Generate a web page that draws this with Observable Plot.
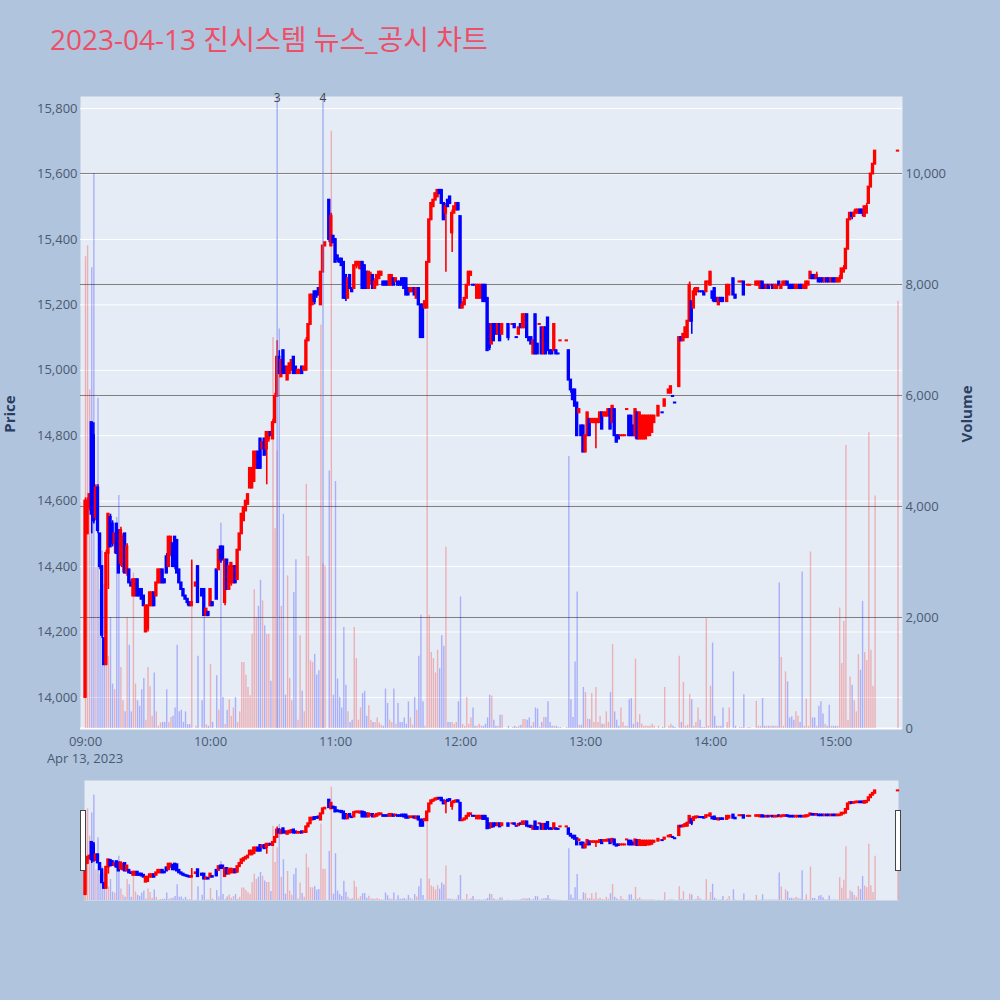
<!DOCTYPE html>
<html>
<head>
<meta charset="utf-8">
<script src="https://cdn.jsdelivr.net/npm/d3@7"></script>
<script src="https://cdn.jsdelivr.net/npm/@observablehq/plot@0.6"></script>
<style>
  body { margin: 0; background: #b0c4de; }
  #page { position: relative; width: 1000px; height: 1000px; overflow: hidden; background: #b0c4de;
          font-family: "Open Sans", "Noto Sans CJK KR", sans-serif; }
  .layer { position: absolute; left: 0; }
  #title { position: absolute; left: 50px; top: 25px; font-size: 28px; line-height: 28px; color: #ee4f66; white-space: nowrap; }
  .ylab { position: absolute; font-size: 15px; font-weight: bold; color: #2a3f5f; transform: translate(-50%, -50%) rotate(-90deg); white-space: nowrap; }
  #date { position: absolute; left: 85px; top: 752px; font-size: 13px; line-height: 13px; color: #4a5a70; transform: translateX(-50%); white-space: nowrap; }
  .handle { position: absolute; top: 810px; width: 4px; height: 59px; background: #fff; border: 1px solid #444; }
</style>
</head>
<body>
<div id="page">
  <div id="title">2023-04-13 진시스템 뉴스_공시 차트</div>
  <div class="ylab" style="left:9px;top:414px">Price</div>
  <div class="ylab" style="left:966px;top:414px">Volume</div>
  <div id="date">Apr 13, 2023</div>
</div>
<script>
// minutes after 09:00, one candle per traded minute
const minute = [
  0,1,2,3,4,5,6,7,8,9,
  10,11,12,13,14,15,16,17,18,19,
  20,21,22,23,24,25,26,27,28,29,
  30,31,32,33,34,35,36,37,38,39,
  40,41,42,43,44,45,46,47,48,49,
  50,51,53,54,56,57,58,59,60,61,
  63,64,65,66,67,68,69,70,71,72,
  73,74,75,76,77,78,79,80,81,82,
  83,84,85,86,87,88,89,90,91,92,
  93,
  94,95,96,97,98,99,100,101,102,103,
  104,105,106,107,108,109,110,111,112,113,
  114,115,117,118,119,120,121,122,123,124,
  125,126,127,128,129,130,131,132,133,134,
  135,136,137,138,139,140,141,142,143,144,
  145,146,147,148,149,150,151,152,153,154,
  155,156,157,158,159,160,161,162,163,164,
  165,166,167,168,169,170,171,172,173,174,
  175,176,177,178,179,180,181,182,183,184,
  185,186,187,
  188,189,190,191,192,193,194,195,196,197,
  198,199,200,203,205,206,207,208,209,210,
  211,212,213,214,215,216,217,218,219,220,
  221,222,223,224,225,226,227,228,231,232,
  233,234,235,236,237,238,239,240,241,242,
  243,244,245,246,247,248,249,250,251,252,
  253,254,255,256,257,258,259,260,261,262,
  263,264,265,266,267,268,269,270,271,272,
  273,275,277,278,280,281,282,283,
  285,286,287,288,289,290,291,292,293,294,
  295,296,297,298,299,300,301,302,303,304,
  305,306,308,309,311,312,314,315,316,318,
  319,322,323,324,325,326,327,328,329,330,
  331,332,333,334,335,336,337,338,339,340,
  341,342,343,344,345,346,347,348,349,350,
  351,352,353,354,355,356,357,358,359,360,
  361,362,363,364,365,366,367,368,369,370,
  371,372,373,374,375,376,377,378,379,390
];

const open = [
  14000,14500,14580,14840,14800,14550,14640,14500,14400,14180,
  14100,14440,14550,14530,14470,14530,14510,14410,14400,14500,
  14380,14390,14350,14310,14310,14360,14330,14330,14310,14200,
  14210,14280,14280,14320,14310,14350,14350,14390,14360,14430,
  14400,14440,14470,14490,14480,14390,14350,14330,14310,14300,
  14290,14280,14340,14400,14330,14330,14250,14260,14280,14290,
  14390,14390,14460,14460,14290,14420,14330,14350,14350,14400,
  14360,14450,14500,14540,14570,14590,14640,14640,14660,14700,
  14750,14790,14760,14790,14760,14790,14810,14790,14840,14920,
  15040,
  14980,15060,15010,14970,14990,15000,15040,15010,14990,14990,
  15010,15000,15000,15090,15140,15200,15240,15240,15250,15200,
  15300,15380,15520,15380,15410,15400,15350,15340,15340,15330,
  15290,15220,15290,15250,15250,15320,15320,15310,15330,15320,
  15300,15250,15270,15290,15250,15260,15280,15290,15270,15270,
  15270,15260,15260,15280,15270,15270,15270,15280,15280,15280,
  15250,15240,15240,15250,15220,15250,15200,15200,15190,15190,
  15330,15460,15500,15520,15530,15550,15550,15510,15480,15520,
  15530,15420,15480,15490,15510,15470,15190,15200,15220,15260,
  15290,15260,15260,
  15220,15220,15220,15260,15260,15220,15140,15080,15140,15140,
  15110,15140,15110,15140,15140,15140,15100,15110,15140,15130,
  15130,15170,15100,15100,15050,15170,15080,15140,15130,15050,
  15130,15160,15060,15060,15060,15060,15050,15090,15090,15060,
  14970,14940,14940,14900,14870,14830,14830,14750,14800,14850,
  14840,14840,14840,14840,14840,14870,14860,14860,14860,14880,
  14840,14880,14800,14800,14800,14800,14800,14880,14860,14860,
  14830,14800,14870,14790,14790,14790,14790,14800,14800,14810,
  14840,14860,14870,14890,14930,14930,14920,14900,
  14950,15100,15090,15100,15100,15150,15210,15190,15230,15240,
  15240,15240,15240,15240,15270,15260,15240,15250,15220,15200,
  15220,15220,15210,15230,15280,15230,15270,15270,15270,15260,
  15260,15260,15260,15250,15270,15260,15250,15260,15260,15260,
  15250,15250,15270,15250,15260,15260,15270,15260,15260,15260,
  15250,15250,15260,15260,15250,15250,15260,15280,15290,15290,
  15280,15280,15280,15280,15270,15280,15280,15270,15280,15280,
  15270,15270,15280,15300,15310,15370,15460,15480,15470,15480,
  15480,15490,15490,15470,15480,15510,15560,15600,15630,15670
];

const high = [
  14610,14610,14620,14840,14840,14650,14650,14500,14400,14180,
  14450,14560,14560,14540,14500,14530,14510,14520,14500,14500,
  14470,14390,14360,14360,14360,14360,14330,14330,14310,14280,
  14280,14320,14320,14320,14350,14390,14390,14390,14360,14440,
  14490,14490,14470,14490,14480,14390,14350,14330,14310,14300,
  14290,14420,14350,14400,14330,14330,14270,14260,14330,14290,
  14390,14450,14460,14460,14420,14420,14400,14410,14400,14400,
  14450,14500,14560,14580,14600,14620,14700,14700,14750,14750,
  14750,14790,14780,14790,14810,14810,14810,14850,14930,15090,
  15060,
  15030,15060,15010,15010,15020,15030,15040,15010,15000,15000,
  15010,15010,15100,15140,15230,15230,15240,15240,15250,15300,
  15380,15390,15520,15480,15410,15400,15350,15340,15340,15330,
  15290,15280,15290,15250,15320,15330,15330,15330,15330,15320,
  15300,15300,15300,15290,15280,15290,15300,15300,15270,15270,
  15270,15290,15290,15280,15280,15270,15270,15280,15280,15280,
  15250,15250,15250,15250,15250,15250,15200,15200,15210,15330,
  15460,15510,15520,15540,15550,15550,15550,15510,15510,15520,
  15530,15490,15500,15510,15510,15470,15210,15220,15260,15300,
  15300,15260,15260,
  15260,15260,15260,15260,15260,15220,15140,15140,15140,15140,
  15140,15140,15140,15140,15140,15140,15100,15130,15140,15170,
  15170,15170,15100,15100,15090,15170,15080,15140,15130,15130,
  15130,15160,15060,15060,15140,15060,15050,15090,15090,15060,
  14970,14940,14940,14900,14880,14830,14830,14800,14870,14850,
  14850,14850,14850,14850,14870,14870,14870,14870,14880,14880,
  14890,14880,14800,14800,14800,14800,14800,14880,14860,14860,
  14830,14880,14870,14870,14860,14860,14860,14860,14860,14860,
  14860,14890,14870,14910,14940,14950,14920,14900,
  15100,15100,15110,15130,15150,15270,15210,15250,15250,15250,
  15240,15240,15240,15270,15270,15300,15240,15250,15220,15220,
  15220,15220,15260,15260,15280,15230,15270,15270,15270,15260,
  15260,15270,15270,15270,15270,15260,15260,15260,15260,15260,
  15260,15260,15270,15260,15270,15270,15270,15260,15260,15260,
  15260,15260,15260,15260,15260,15270,15270,15300,15290,15290,
  15300,15280,15280,15280,15280,15280,15280,15280,15280,15280,
  15280,15290,15310,15320,15370,15460,15480,15480,15490,15490,
  15490,15490,15490,15500,15510,15560,15600,15630,15670,15670
];

const low = [
  14000,14500,14570,14500,14530,14540,14500,14390,14180,14100,
  14100,14330,14460,14460,14440,14440,14380,14400,14380,14380,
  14370,14350,14340,14310,14310,14310,14310,14300,14280,14200,
  14200,14280,14280,14280,14310,14350,14350,14350,14350,14380,
  14400,14430,14400,14390,14380,14350,14330,14310,14300,14280,
  14280,14280,14340,14290,14310,14250,14250,14250,14280,14280,
  14300,14390,14410,14420,14280,14330,14330,14340,14350,14350,
  14360,14450,14500,14540,14570,14590,14640,14640,14660,14700,
  14700,14700,14760,14740,14650,14780,14800,14790,14840,14920,
  14990,
  14980,14990,14990,14970,14990,15000,14990,14990,14990,14990,
  14990,15000,15000,15090,15140,15200,15200,15220,15230,15200,
  15300,15380,15390,15380,15390,15330,15330,15330,15320,15220,
  15210,15220,15250,15240,15250,15310,15310,15310,15250,15250,
  15250,15250,15260,15250,15250,15260,15280,15290,15260,15260,
  15260,15260,15260,15260,15270,15260,15260,15260,15250,15230,
  15230,15240,15240,15230,15220,15200,15100,15100,15190,15190,
  15330,15460,15500,15520,15530,15540,15510,15460,15300,15500,
  15510,15360,15480,15490,15490,15190,15190,15200,15220,15260,
  15290,15260,15260,
  15220,15220,15220,15210,15210,15060,15060,15080,15090,15110,
  15110,15090,15110,15090,15140,15130,15100,15110,15130,15130,
  15130,15100,15090,15080,15050,15050,15050,15140,15050,15050,
  15050,15060,15050,15050,15060,15050,15050,15090,15090,14970,
  14930,14910,14890,14800,14870,14800,14750,14750,14800,14800,
  14840,14840,14760,14840,14840,14820,14860,14860,14860,14820,
  14840,14800,14780,14790,14800,14800,14800,14880,14800,14800,
  14800,14790,14790,14790,14790,14790,14790,14800,14800,14810,
  14840,14860,14870,14890,14930,14930,14920,14900,
  14950,15090,15090,15100,15100,15150,15110,15190,15230,15240,
  15240,15240,15230,15240,15260,15260,15210,15210,15210,15200,
  15210,15210,15210,15230,15230,15220,15270,15270,15230,15260,
  15260,15260,15260,15250,15250,15250,15250,15250,15260,15250,
  15250,15250,15260,15250,15260,15260,15260,15250,15250,15250,
  15250,15250,15250,15250,15250,15250,15260,15280,15280,15280,
  15280,15270,15270,15270,15270,15270,15270,15270,15270,15270,
  15270,15270,15280,15300,15310,15370,15460,15460,15470,15480,
  15480,15480,15470,15470,15480,15510,15560,15600,15630,15670
];

const close = [
  14600,14600,14620,14560,14540,14640,14510,14400,14190,14100,
  14440,14560,14460,14470,14500,14440,14380,14510,14490,14380,
  14460,14350,14340,14360,14360,14310,14310,14300,14280,14280,
  14280,14320,14320,14280,14350,14390,14390,14350,14350,14380,
  14490,14490,14400,14400,14380,14350,14330,14310,14300,14290,
  14280,14290,14350,14290,14310,14250,14270,14250,14330,14280,
  14300,14450,14420,14420,14420,14330,14400,14410,14400,14350,
  14450,14500,14560,14580,14600,14620,14700,14700,14750,14750,
  14700,14700,14780,14740,14810,14810,14800,14840,14920,15040,
  14990,
  15030,14990,14990,15010,15020,15030,14990,14990,15000,15000,
  14990,15010,15090,15140,15230,15230,15210,15230,15230,15300,
  15380,15390,15400,15470,15390,15330,15340,15330,15320,15220,
  15220,15280,15250,15240,15320,15330,15330,15330,15250,15250,
  15250,15300,15290,15250,15270,15290,15300,15300,15260,15260,
  15260,15290,15290,15260,15280,15260,15260,15260,15250,15230,
  15230,15250,15250,15230,15250,15200,15100,15100,15210,15330,
  15460,15510,15520,15540,15550,15540,15510,15460,15500,15500,
  15510,15480,15500,15510,15490,15190,15200,15220,15260,15300,
  15300,15260,15260,
  15260,15260,15260,15210,15210,15060,15070,15140,15090,15110,
  15140,15090,15140,15100,15140,15130,15100,15130,15130,15170,
  15170,15100,15090,15080,15090,15050,15050,15140,15050,15130,
  15050,15060,15050,15050,15140,15050,15050,15090,15090,14970,
  14940,14910,14890,14800,14880,14800,14750,14800,14870,14800,
  14850,14850,14850,14850,14870,14820,14870,14870,14880,14820,
  14890,14800,14780,14790,14800,14800,14800,14880,14800,14800,
  14800,14880,14790,14870,14860,14860,14860,14860,14860,14860,
  14860,14890,14870,14910,14940,14950,14920,14900,
  15100,15090,15110,15130,15150,15260,15150,15240,15250,15250,
  15240,15240,15230,15270,15270,15300,15220,15210,15210,15220,
  15210,15210,15260,15260,15230,15220,15270,15270,15230,15260,
  15260,15270,15270,15270,15250,15250,15260,15250,15260,15250,
  15260,15260,15260,15260,15270,15270,15260,15250,15250,15250,
  15260,15260,15250,15250,15260,15270,15270,15300,15280,15280,
  15290,15270,15270,15270,15280,15270,15270,15280,15270,15270,
  15280,15280,15310,15310,15370,15460,15480,15470,15480,15490,
  15490,15480,15480,15500,15500,15560,15600,15630,15670,15670
];

const volume = [
  8500,8700,6100,8300,10000,2900,5950,2500,3200,2600,
  2000,1300,2000,800,700,3800,4200,1100,500,300,
  2000,1500,300,2800,800,500,400,700,900,150,
  1100,750,220,1000,300,40,100,110,110,700,
  110,200,220,370,1500,300,330,110,300,70,
  70,3000,40,1300,500,2000,70,40,1150,110,
  950,330,3700,560,70,330,520,220,370,560,
  110,300,1190,1190,960,740,590,1700,2500,2000,
  2200,2670,2300,1850,1700,1700,850,7045,3600,5000,
  7200,
  2200,3860,600,2750,900,500,2450,3040,150,1670,
  670,300,4400,3100,1220,1190,1335,965,1040,7270,
  2970,2930,4640,10760,600,4450,890,560,370,1820,
  780,300,110,150,1820,1260,150,370,630,670,
  220,410,150,110,110,190,100,60,40,710,
  450,150,110,710,75,450,110,110,190,75,
  480,190,60,560,330,1300,2040,480,40,7530,
  2040,1370,1260,1000,1410,1075,1670,1480,3265,110,
  110,110,75,110,480,2370,75,40,560,75,
  190,370,40,
  40,75,40,40,75,190,600,580,150,40,
  40,240,240,40,20,40,20,40,60,160,
  160,150,190,40,110,370,350,20,110,200,
  200,480,110,40,40,40,20,20,20,4900,
  520,200,1200,2460,60,60,740,650,170,160,
  630,110,740,110,220,75,75,300,110,650,
  1510,300,150,40,370,110,40,40,520,540,
  75,1250,110,250,75,40,40,40,40,75,
  40,40,20,740,40,75,40,20,
  1300,110,830,40,60,610,520,40,110,370,
  150,20,20,1980,40,760,1540,220,40,40,
  40,370,110,370,1020,40,20,20,610,20,
  20,490,40,40,540,40,40,40,40,40,
  40,40,2620,1280,40,1020,840,190,210,150,
  300,220,110,2820,40,530,40,3180,190,190,
  40,400,480,260,75,40,420,40,40,40,
  40,2170,1170,1930,5100,150,930,780,500,300,
  1330,1050,2290,1370,1220,5330,1410,760,4190,7700
];

const newsTime = ["10:32", "10:54"];
const newsLabel = ["3", "4"];
const priceTicks = [14000, 14200, 14400, 14600, 14800, 15000, 15200, 15400, 15600, 15800];
const volumeTicks = [2000, 4000, 6000, 8000, 10000];
const hourTicks = ["09:00", "10:00", "11:00", "12:00", "13:00", "14:00", "15:00"];

const day = Date.UTC(2023, 3, 13, 9, 0);
const at = m => new Date(day + m * 60000);
const hm = s => { const [h, m] = s.split(":").map(Number); return at((h - 9) * 60 + m); };

// plotly style: flat candles take the direction from the previous close
let prevUp = true;
const candles = minute.map((m, i) => {
  let up;
  if (close[i] !== open[i]) up = close[i] > open[i];
  else if (i > 0 && close[i] !== close[i - 1]) up = close[i] > close[i - 1];
  else up = prevUp;
  prevUp = up;
  return {date: at(m), open: open[i], high: high[i], low: low[i], close: close[i], volume: volume[i], up};
});
const news = newsTime.map((t, i) => ({date: hm(t), label: newsLabel[i]}));

const RED = "#ff0000", BLUE = "#0000ff";
const priceDomain = [13905, 15837];
const volumeDomain = [0, 11387];
const style = {background: "transparent", fontFamily: '"Open Sans", "Noto Sans", sans-serif',
  fontSize: "13px", color: "#4a5a70", overflow: "visible"};

const mainBox = {width: 1000, height: 780, marginLeft: 80, marginRight: 98, marginTop: 96, marginBottom: 52, style};
const xMain = {type: "utc", domain: [at(-2.4), at(392.16)]};
const sliderBox = {width: 1000, height: 140, marginLeft: 84, marginRight: 102, marginTop: 10, marginBottom: 10, style};
const xSlider = {type: "utc", domain: [at(-0.48), at(390.24)], axis: null};

function candleMarks() {
  return [
    Plot.ruleX(candles, {x: "date", y1: "low", y2: "high", stroke: d => d.up ? RED : BLUE, strokeWidth: 1.6}),
    Plot.rect(candles, {
      x1: d => new Date(+d.date - 48000), x2: d => new Date(+d.date + 48000),
      y1: d => Math.min(d.open, d.close), y2: d => Math.max(d.open, d.close),
      insetTop: -1, insetBottom: -1, fill: d => d.up ? RED : BLUE
    })
  ];
}
function volumeMarks() {
  return [
    Plot.ruleX(candles, {x: "date", y1: 0, y2: "volume", stroke: d => d.up ? RED : BLUE,
      strokeOpacity: 0.26, strokeWidth: 1.4})
  ];
}

const page = document.getElementById("page");
function layer(top, svg) {
  const div = document.createElement("div");
  div.className = "layer";
  div.style.top = top + "px";
  div.append(svg);
  page.append(div);
}

// main chart: background, price grid and axes
layer(0, Plot.plot({
  ...mainBox,
  x: xMain,
  y: {domain: priceDomain},
  marks: [
    Plot.frame({fill: "#e5ecf6", stroke: "none"}),
    Plot.gridY(priceTicks, {stroke: "white", strokeOpacity: 1, strokeWidth: 1}),
    Plot.axisY(priceTicks, {anchor: "left", tickSize: 0, tickPadding: 3, tickFormat: d3.format(","), label: null}),
    Plot.axisX(hourTicks.map(hm), {anchor: "bottom", tickSize: 0, tickPadding: 8, label: null,
      tickFormat: d3.utcFormat("%H:%M")})
  ]
}));

// main chart: volume on the right axis
layer(0, Plot.plot({
  ...mainBox,
  x: {...xMain, axis: null},
  y: {domain: volumeDomain},
  marks: [
    Plot.gridY(volumeTicks, {stroke: "#7f7f7f", strokeOpacity: 1, strokeWidth: 1}),
    Plot.ruleY([0], {stroke: "white", strokeWidth: 2}),
    ...volumeMarks(),
    Plot.axisY([0, ...volumeTicks], {anchor: "right", tickSize: 0, tickPadding: 3, tickFormat: d3.format(","), label: null})
  ]
}));

// main chart: candles and news markers
layer(0, Plot.plot({
  ...mainBox,
  x: {...xMain, axis: null},
  y: {domain: priceDomain, axis: null},
  marks: [
    ...candleMarks(),
    Plot.ruleX(news, {x: "date", stroke: "#6f86ee", strokeOpacity: 0.55, strokeWidth: 1.5}),
    Plot.text(news, {x: "date", text: "label", frameAnchor: "top", dy: -3, fill: "#444", fontSize: 12})
  ]
}));

// range slider
layer(770, Plot.plot({
  ...sliderBox,
  x: xSlider,
  y: {domain: volumeDomain, axis: null},
  marks: [Plot.frame({fill: "#e5ecf6", stroke: "none"}), ...volumeMarks()]
}));
layer(770, Plot.plot({
  ...sliderBox,
  x: xSlider,
  y: {domain: priceDomain, axis: null},
  marks: candleMarks()
}));

for (const left of [80, 895]) {
  const h = document.createElement("div");
  h.className = "handle";
  h.style.left = left + "px";
  page.append(h);
}
</script>
</body>
</html>
